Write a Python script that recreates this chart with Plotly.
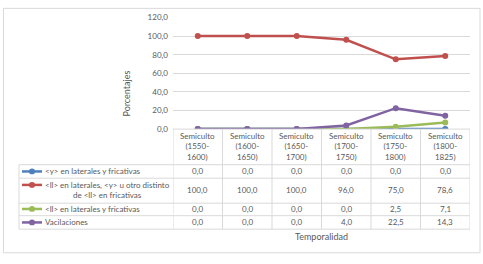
import plotly.graph_objects as go

periods = ["1550-1600", "1600-1650", "1650-1700", "1700-1750", "1750-1800", "1800-1825"]
series_names = [
    "<y> en laterales y fricativas",
    "<ll> en laterales, <y> u otro distinto de <ll> en fricativas",
    "<ll> en laterales y fricativas",
    "Vacilaciones",
]
s_y = [0.0, 0.0, 0.0, 0.0, 0.0, 0.0]
s_ll_y = [100.0, 100.0, 100.0, 96.0, 75.0, 78.6]
s_ll = [0.0, 0.0, 0.0, 0.0, 2.5, 7.1]
s_vac = [0.0, 0.0, 0.0, 4.0, 22.5, 14.3]
y_ticks = [0, 20, 40, 60, 80, 100, 120]

colors = ["#4F81BD", "#C0504D", "#9BBB59", "#8064A2"]
all_series = [s_y, s_ll_y, s_ll, s_vac]
row_labels = [
    "&lt;y&gt; en laterales y fricativas",
    "&lt;ll&gt; en laterales, &lt;y&gt; u otro distinto<br>de &lt;ll&gt; en fricativas",
    "&lt;ll&gt; en laterales y fricativas",
    "Vacilaciones",
]

W, H = 483, 264
PL, PR, PT, PB = 173, 470, 13, 129  # plot area in pixels
FONT = "Lato"
TXT = "#595959"
GRID = "#D9D9D9"
FS = 8

cats = ["Semiculto (" + p + ")" for p in periods]

fig = go.Figure()
for name, vals, col in zip(series_names, all_series, colors):
    fig.add_trace(go.Scatter(
        x=cats, y=vals, name=name, mode="lines+markers",
        line=dict(color=col, width=2.5),
        marker=dict(color=col, size=6),
        showlegend=False, hoverinfo="skip",
    ))

fig.update_layout(
    width=W, height=H,
    margin=dict(l=0, r=0, t=0, b=0),
    paper_bgcolor="white", plot_bgcolor="rgba(0,0,0,0)",
    separators=",.",
    font=dict(family=FONT, size=FS, color=TXT),
    xaxis=dict(domain=[PL / W, PR / W], range=[-0.5, 5.5], showticklabels=False,
               showgrid=False, zeroline=False, showline=False, ticks="",
               categoryorder="array", categoryarray=cats),
    yaxis=dict(domain=[1 - PB / H, 1 - PT / H], range=[0, 120], tickvals=y_ticks,
               tickformat=".1f", showgrid=True, gridcolor=GRID, gridwidth=1,
               zeroline=False, showline=False, ticks="", ticklen=0,
               ticklabelstandoff=4,
               tickfont=dict(family=FONT, size=FS, color=TXT)),
    xaxis2=dict(domain=[0, 1], range=[0, W], visible=False, anchor="y2"),
    yaxis2=dict(domain=[0, 1], range=[H, 0], visible=False, anchor="x2"),
)

shapes = []
ann = []
shapes.append(dict(type="rect", xref="x2", yref="y2", x0=3.5, y0=3.5, x1=480, y1=257.5,
                   line=dict(color=GRID, width=1), fillcolor="rgba(0,0,0,0)", layer="below"))

n = len(periods)
hdr_top = PB
row_bounds = [166, 180, 206, 219, 233]
row_text_y = [173, 192, 212, 226]
key_y = [173, 187, 212, 226]
TL = 19

for i in range(n + 1):
    shapes.append(dict(type="line", xref="x", yref="y2", x0=i - 0.5, x1=i - 0.5,
                       y0=hdr_top, y1=row_bounds[-1], line=dict(color=GRID, width=1)))
shapes.append(dict(type="line", xref="x2", yref="y2", x0=PL, x1=PR, y0=PB, y1=PB,
                   line=dict(color=GRID, width=1), layer="below"))
for yb in row_bounds:
    shapes.append(dict(type="line", xref="x2", yref="y2", x0=TL, x1=PR, y0=yb, y1=yb,
                       line=dict(color=GRID, width=1)))
shapes.append(dict(type="line", xref="x2", yref="y2", x0=TL, x1=TL, y0=row_bounds[0],
                   y1=row_bounds[-1], line=dict(color=GRID, width=1)))

for i, p in enumerate(periods):
    a, b = p.split("-")
    ann.append(dict(xref="x", yref="y2", x=i, y=147, text="Semiculto<br>(" + a + "-<br>" + b + ")",
                    showarrow=False, font=dict(size=FS, color=TXT, family=FONT),
                    xanchor="center", yanchor="middle", align="center"))

for r, (lab, vals, col) in enumerate(zip(row_labels, all_series, colors)):
    ann.append(dict(xref="x2", yref="y2", x=43, y=row_text_y[r], text=lab,
                    showarrow=False, font=dict(size=FS, color=TXT, family=FONT),
                    xanchor="left", yanchor="middle", align="center"))
    shapes.append(dict(type="line", xref="x2", yref="y2", x0=22, x1=42, y0=key_y[r], y1=key_y[r],
                       line=dict(color=col, width=2.5)))
    shapes.append(dict(type="circle", xref="x2", yref="y2", x0=29, x1=35, y0=key_y[r] - 3,
                       y1=key_y[r] + 3, line=dict(color=col, width=0), fillcolor=col))
    for i, v in enumerate(vals):
        ann.append(dict(xref="x", yref="y2", x=i, y=row_text_y[r],
                        text=f"{v:.1f}".replace(".", ","), showarrow=False,
                        font=dict(size=FS, color=TXT, family=FONT),
                        xanchor="center", yanchor="middle"))

ann.append(dict(xref="x2", yref="y2", x=127, y=92, text="Porcentajes", textangle=-90,
                showarrow=False, font=dict(size=9, color=TXT, family=FONT),
                xanchor="center", yanchor="middle"))
ann.append(dict(xref="x2", yref="y2", x=(PL + PR) / 2, y=241, text="Temporalidad",
                showarrow=False, font=dict(size=9, color=TXT, family=FONT),
                xanchor="center", yanchor="middle"))

fig.update_layout(shapes=shapes, annotations=ann)
fig.write_html("out.html", config={"displayModeBar": False},
               post_script="document.body.style.margin='0';")
